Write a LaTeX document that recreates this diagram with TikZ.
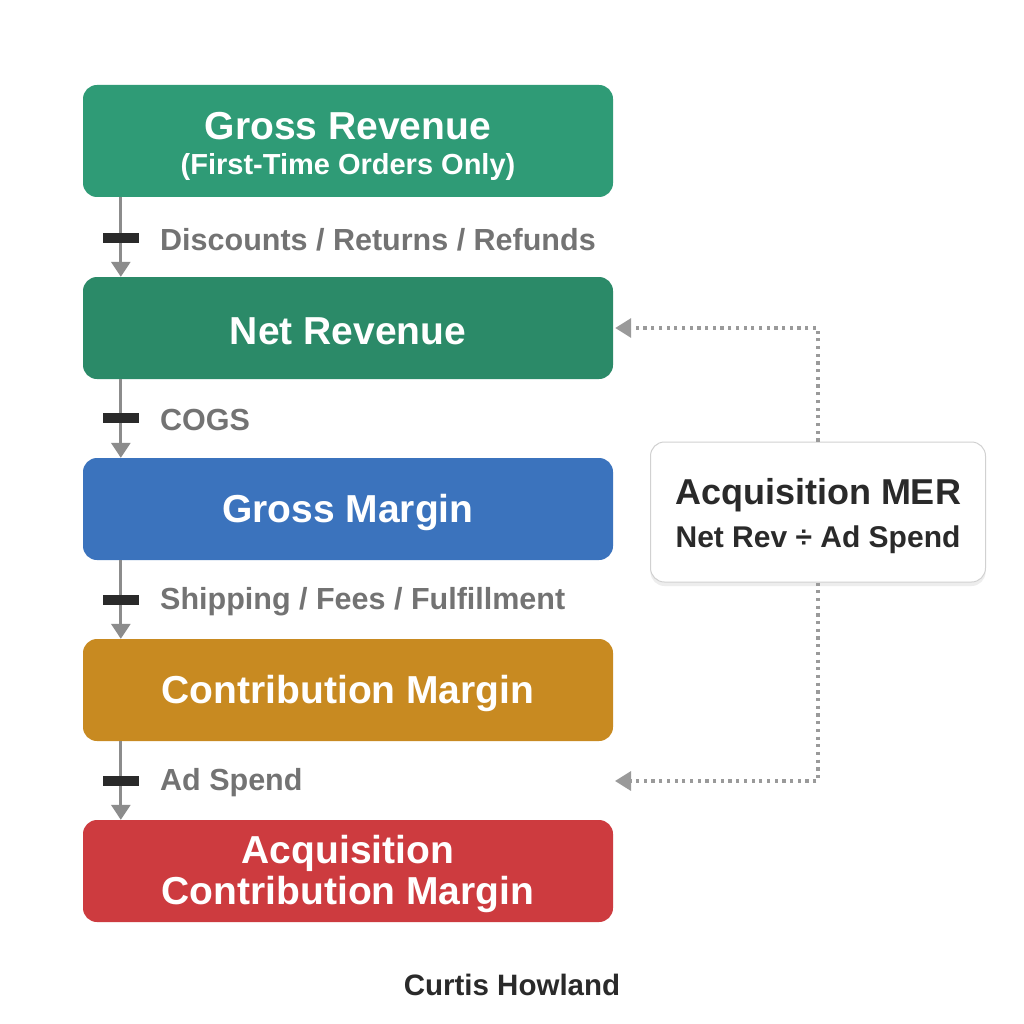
\documentclass[tikz,border=0pt]{standalone}
\usepackage{fontspec}
\setmainfont{Liberation Sans}
\usetikzlibrary{arrows.meta,shadows}
\definecolor{cGross}{HTML}{2F9B76}
\definecolor{cNet}{HTML}{2B8A68}
\definecolor{cBlue}{HTML}{3B73BD}
\definecolor{cGold}{HTML}{C88A21}
\definecolor{cRed}{HTML}{CD3B3F}
\definecolor{cLabel}{HTML}{737373}
\definecolor{cDark}{HTML}{2A2A2A}
\definecolor{cFlow}{HTML}{8C8C8C}
\definecolor{cDot}{HTML}{9A9A9A}
\begin{document}
\begin{tikzpicture}[x=1pt,y=-1pt,
  stage/.style={rounded corners=14pt, minimum width=530pt, inner sep=0pt},
  stagetext/.style={text=white, font=\bfseries\fontsize{39}{44}\selectfont, align=center, inner sep=0pt},
  flow/.style={draw=cFlow, line width=3pt, -{Triangle[length=15pt,width=19pt]}},
  tickbar/.style={fill=cDark, minimum width=36pt, minimum height=10pt, inner sep=0pt},
  lbl/.style={anchor=west, text=cLabel, font=\bfseries\fontsize{30.5}{36}\selectfont, inner sep=0pt},
  dotline/.style={draw=cDot, line width=3.2pt, dash pattern=on 3.2pt off 4.5pt, -{Triangle[length=16pt,width=19pt]}},
  merbox/.style={rounded corners=14pt, draw=black!18, line width=1pt, fill=white, minimum width=335pt, minimum height=140pt, inner sep=0pt, drop shadow={opacity=0.14, shadow xshift=0pt, shadow yshift=-4pt}}
]
\useasboundingbox (0,0) rectangle (1024,1024);
\fill[white] (0,0) rectangle (1024,1024);

\node[stage, fill=cGross, minimum height=112pt] (b1) at (348,141) {};
\node[stage, fill=cNet, minimum height=102pt] (b2) at (348,328) {};
\node[stage, fill=cBlue, minimum height=102pt] (b3) at (348,509) {};
\node[stage, fill=cGold, minimum height=102pt] (b4) at (348,690) {};
\node[stage, fill=cRed, minimum height=102pt] (b5) at (348,871) {};

\node[stagetext] (b1t) at (348,146) {{\fontsize{39}{44}\selectfont Gross Revenue}\\[-9pt]{\fontsize{29}{34}\selectfont (First-Time Orders Only)}};
\node[stagetext] (b2t) at (348,331) {Net Revenue};
\node[stagetext] (b3t) at (348,512) {Gross Margin};
\node[stagetext] (b4t) at (348,693) {Contribution Margin};
\node[stagetext] (b5t) at (348,874) {Acquisition\\[-3pt]Contribution Margin};

\draw[flow] ([xshift=38pt]b1.south west) -- ([xshift=38pt]b2.north west);
\draw[flow] ([xshift=38pt]b2.south west) -- ([xshift=38pt]b3.north west);
\draw[flow] ([xshift=38pt]b3.south west) -- ([xshift=38pt]b4.north west);
\draw[flow] ([xshift=38pt]b4.south west) -- ([xshift=38pt]b5.north west);

\node[tickbar] (t1) at (121,238) {};
\node[tickbar] (t2) at (121,418) {};
\node[tickbar] (t3) at (121,600) {};
\node[tickbar] (t4) at (121,781) {};

\node[lbl] (l1) at (160,240) {Discounts / Returns / Refunds};
\node[lbl] (l2) at (160,420) {COGS};
\node[lbl] (l3) at (160,602) {Shipping / Fees / Fulfillment};
\node[lbl] (l4) at (160,783) {Ad Spend};

\node[merbox] (mer) at (818,512) {};
\node[text=cDark, align=center, inner sep=0pt] (mert) at (818,516) {{\bfseries\fontsize{36}{40}\selectfont Acquisition MER}\\[13pt]{\bfseries\fontsize{30}{34}\selectfont Net Rev ÷ Ad Spend}};

\coordinate (adtip) at (615,781);
\draw[dotline] (mer.north) |- ([xshift=2pt]b2.east);
\draw[dotline] (mer.south) |- (adtip);

\node[text=cDark, font=\bfseries\fontsize{29.5}{34}\selectfont, inner sep=0pt] (author) at (512,985) {Curtis Howland};
\end{tikzpicture}
\end{document}
